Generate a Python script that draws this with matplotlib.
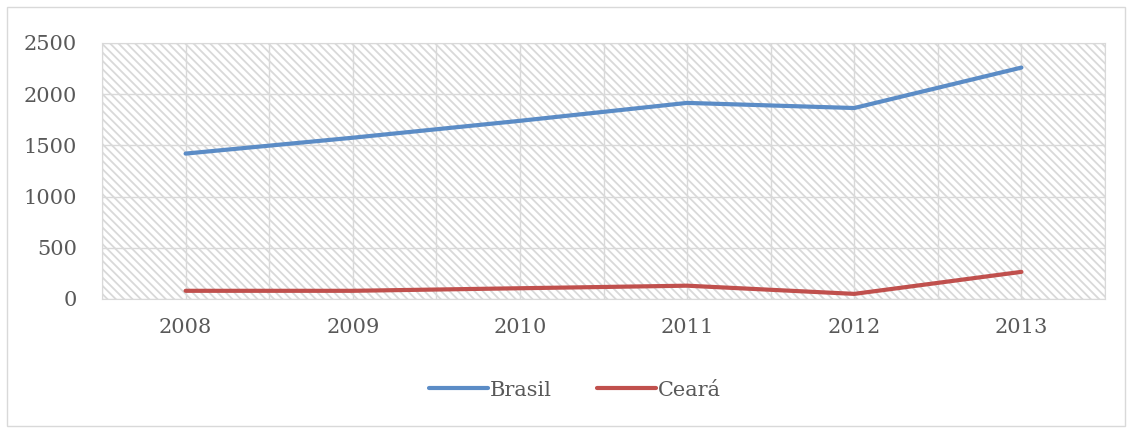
import matplotlib.pyplot as plt
from matplotlib.patches import Rectangle

years = ["2008", "2009", "2010", "2011", "2012", "2013"]
brasil = [1420, 1575, 1740, 1915, 1865, 2260]
ceara = [80, 80, 105, 130, 50, 265]

plt.rcParams['font.family'] = ['DejaVu Serif']
plt.rcParams['hatch.color'] = '#e4e4e4'
plt.rcParams['hatch.linewidth'] = 1.3

fig = plt.figure(figsize=(11.32, 4.30), dpi=100)
ax = fig.add_axes([102 / 1132, 1 - 299 / 430, 1003 / 1132, 256 / 430])

# hatched plot background like the original
ax.patch.set_facecolor('white')
ax.patch.set_hatch('\\\\\\\\')
ax.patch.set_edgecolor('#d9d9d9')

x = range(len(years))
ax.plot(x, brasil, color='#5b8cc6', lw=3, label='Brasil', solid_capstyle='round')
ax.plot(x, ceara, color='#c0504d', lw=3, label='Ceará', solid_capstyle='round')

ax.set_xlim(-0.5, len(years) - 0.5)
ax.set_ylim(0, 2500)
ax.set_yticks(range(0, 2501, 500))
ax.set_xticks(list(x))
ax.set_xticklabels(years)
ax.set_xticks([i + 0.5 for i in range(-1, len(years))], minor=True)

ax.grid(True, which='both', color='#d9d9d9', lw=1)
ax.set_axisbelow(True)
for s in ax.spines.values():
    s.set_color('#d9d9d9')
ax.tick_params(which='both', length=0, colors='#595959', labelsize=15)
ax.tick_params(axis='x', pad=14)
ax.tick_params(axis='y', pad=18)

fig.legend(loc='center', bbox_to_anchor=(0.508, 1 - 390 / 430), ncol=2, frameon=False,
           fontsize=15, labelcolor='#595959', handlelength=2.8, handletextpad=0.1,
           columnspacing=2.2)

fig.patches.append(Rectangle((7 / 1132, 4 / 430), 1118 / 1132, 419 / 430,
                             transform=fig.transFigure, fill=False,
                             edgecolor='#d9d9d9', lw=1))

fig.savefig('out.png', dpi=100)
